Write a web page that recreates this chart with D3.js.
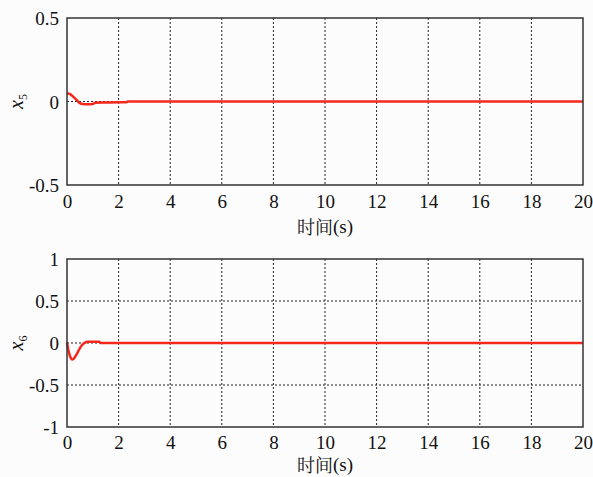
<!DOCTYPE html>
<html><head><meta charset="utf-8">
<script src="https://cdn.jsdelivr.net/npm/d3@7"></script>
<style>body{margin:0;background:#fcfcfc;} svg{display:block;}</style>
</head><body>
<svg id="c" width="593" height="477"></svg>
<script>
// Data
const xTicks = [0,2,4,6,8,10,12,14,16,18,20];
const x5Time  = [0, 0.1, 0.2, 0.3, 0.4, 0.5, 0.6, 0.8, 1.0, 1.1, 1.5, 2.0, 2.3, 2.35, 20];
const x5Value = [0.05, 0.045, 0.035, 0.02, 0.005, -0.01, -0.015, -0.016, -0.015, -0.007, -0.006, -0.005, -0.005, 0, 0];
const x6Time  = [0, 0.05, 0.1, 0.15, 0.2, 0.25, 0.3, 0.4, 0.5, 0.6, 0.7, 0.8, 1.0, 1.25, 1.3, 20];
const x6Value = [0.01, -0.08, -0.14, -0.18, -0.195, -0.19, -0.17, -0.12, -0.06, -0.02, 0.005, 0.015, 0.015, 0.015, 0, 0];
const yTicksTop = [-0.5, 0, 0.5];
const yTicksBottom = [-1, -0.5, 0, 0.5, 1];
const yGridTop = [0];
const yGridBottom = [-0.5, 0, 0.5];
const xLabelCJK = "时间";
const xLabelUnit = "(s)";

const svg = d3.select("#c");
const font = '"Liberation Serif"';
const cjk = '"Noto Serif CJK SC"';

function panel(cfg){
  const x = d3.scaleLinear().domain([0,20]).range([67,583]);
  const y = d3.scaleLinear().domain(cfg.domain).range([cfg.bottom, cfg.top]);
  const g = svg.append("g");
  g.selectAll(".vg").data(xTicks.slice(1,-1)).join("line")
    .attr("x1",d=>x(d)).attr("x2",d=>x(d)).attr("y1",cfg.top).attr("y2",cfg.bottom)
    .attr("stroke","#222").attr("stroke-width",1).attr("stroke-dasharray","2,2");
  g.selectAll(".hg").data(cfg.grid).join("line")
    .attr("x1",x(0)).attr("x2",x(20)).attr("y1",d=>y(d)).attr("y2",d=>y(d))
    .attr("stroke","#222").attr("stroke-width",1).attr("stroke-dasharray","2,2");
  const pts = cfg.t.map((t,i)=>[t,cfg.v[i]]);
  g.append("path").datum(pts)
    .attr("d", d3.line().x(d=>x(d[0])).y(d=>y(d[1])).curve(d3.curveMonotoneX))
    .attr("fill","none").attr("stroke","#f5281c").attr("stroke-width",2.5);
  const xa = g.append("g").attr("transform",`translate(0,${cfg.bottom})`)
    .call(d3.axisBottom(x).tickValues(xTicks).tickSize(0).tickPadding(0).tickFormat(d3.format("d")));
  xa.attr("font-family",null).attr("font-size",null);
  xa.select(".domain").remove();
  xa.selectAll("text").attr("dy",null).attr("y",cfg.tickOff).attr("dominant-baseline","central")
    .style("font-family",font).style("font-size","19px").attr("fill","#111");
  const ya = g.append("g").attr("transform",`translate(67,0)`)
    .call(d3.axisLeft(y).tickValues(cfg.ticks).tickSize(0).tickPadding(8).tickFormat(d=>d===0?"0":String(d)));
  ya.attr("font-family",null).attr("font-size",null);
  ya.select(".domain").remove();
  ya.selectAll("text").attr("dy",null).attr("dominant-baseline","central")
    .style("font-family",font).style("font-size","19px").attr("fill","#111");
  g.append("rect").attr("x",x(0)).attr("y",cfg.top).attr("width",x(20)-x(0)).attr("height",cfg.bottom-cfg.top)
    .attr("fill","none").attr("stroke","#333").attr("stroke-width",1.5);
  const xl = g.append("text").attr("x",(x(0)+x(20))/2).attr("y",cfg.bottom+cfg.labelOff)
    .attr("text-anchor","middle").attr("dominant-baseline","central").attr("fill","#111");
  xl.append("tspan").style("font-family",cjk).style("font-size","18px").text(xLabelCJK);
  xl.append("tspan").style("font-family",font).style("font-size","19px").text(xLabelUnit);
  const yl = g.append("text").attr("transform",`translate(23,${y(0)}) rotate(-90)`)
    .attr("text-anchor","middle").style("font-family",font).style("font-size","20px").attr("fill","#111");
  yl.append("tspan").style("font-style","italic").text("x");
  yl.append("tspan").style("font-size","12px").attr("dy",4).text(cfg.sub);
}

panel({domain:[-0.5,0.5], top:18, bottom:185, ticks:yTicksTop, grid:yGridTop, t:x5Time, v:x5Value, sub:"5", tickOff:16, labelOff:41});
panel({domain:[-1,1], top:259, bottom:427, ticks:yTicksBottom, grid:yGridBottom, t:x6Time, v:x6Value, sub:"6", tickOff:15, labelOff:37});
</script>
</body></html>
